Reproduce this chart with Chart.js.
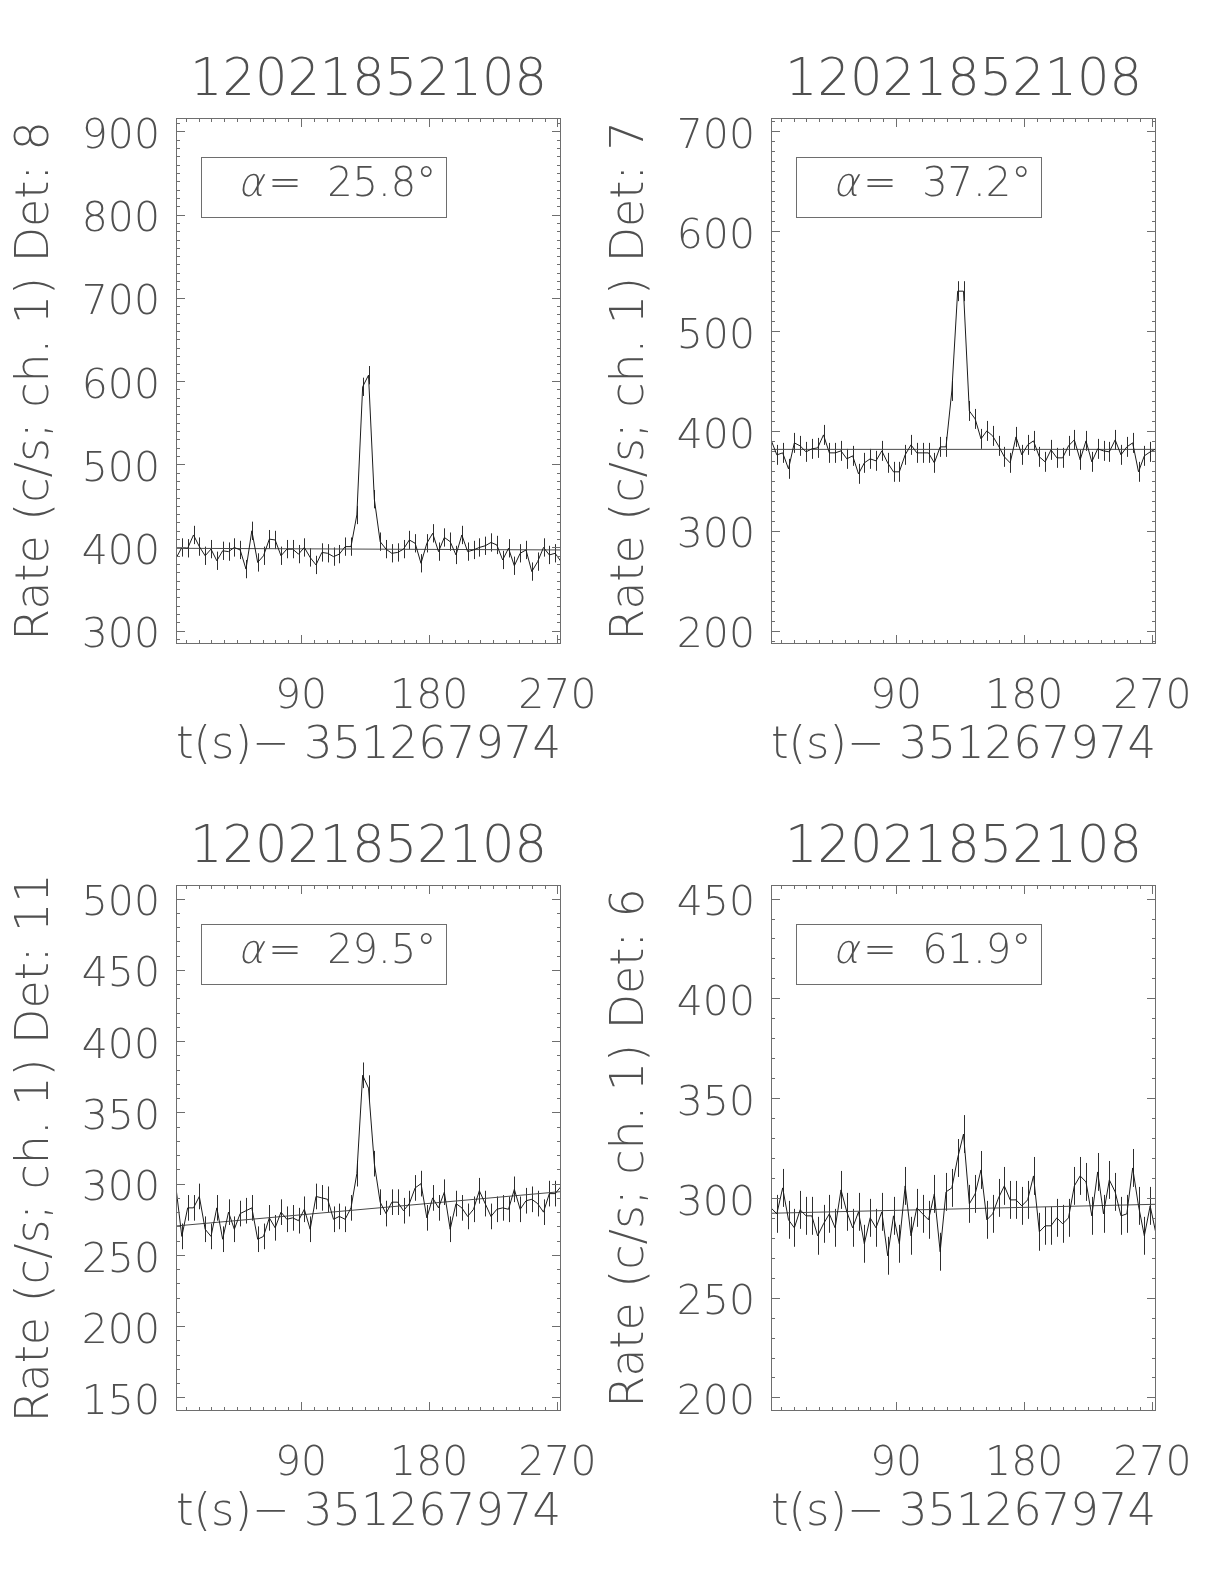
<!DOCTYPE html>
<html>
<head>
<meta charset="utf-8">
<title>12021852108 detector rates</title>
<script src="https://cdn.jsdelivr.net/npm/chart.js@4.4.1/dist/chart.umd.min.js"></script>
<style>
  html, body { margin: 0; padding: 0; background: #ffffff; }
  #page { position: relative; width: 1224px; height: 1584px; overflow: hidden; background: #ffffff; }
  #page canvas { position: absolute; }
</style>
</head>
<body>
<div id="page">
  <canvas id="det8" width="612" height="792" style="left:0px;top:0px"></canvas>
  <canvas id="det7" width="612" height="792" style="left:595px;top:0px"></canvas>
  <canvas id="det11" width="612" height="792" style="left:0px;top:767px"></canvas>
  <canvas id="det6" width="612" height="792" style="left:595px;top:767px"></canvas>
</div>
<script>
const TITLE = "12021852108";
const X_TITLE = "t(s)\u2212 351267974";
const T0 = 2.2;    // first bin, s after 351267974
const DT = 4.096;  // bin width (s)

const xTicks = [90, 180, 270];

// ---- Det 8 ----
const rate8 = [387, 400, 399, 415, 401, 390, 398, 384, 396, 395,
               400, 397, 374, 420, 382, 390, 410, 409, 390, 398,
               398, 392, 400, 388, 379, 394, 393, 389, 392, 401,
               401, 439, 593, 607, 458, 407, 398, 393, 394, 398,
               409, 405, 381, 405, 417, 395, 412, 407, 391, 415,
               395, 397, 400, 402, 406, 403, 385, 399, 378, 393,
               397, 371, 383, 400, 391, 393, 383];
const bg8 = [399, 397];
const yTicks8 = [300, 400, 500, 600, 700, 800, 900];

// ---- Det 7 ----
const rate7 = [391, 376, 378, 362, 388, 385, 379, 382, 383, 396,
               378, 378, 380, 372, 375, 357, 368, 372, 370, 380,
               368, 359, 359, 376, 386, 378, 378, 378, 368, 384,
               384, 440, 540, 540, 420, 412, 392, 400, 395, 385,
               374, 368, 394, 376, 386, 390, 374, 369, 381, 373,
               373, 385, 391, 371, 390, 369, 382, 380, 379, 391,
               376, 384, 388, 359, 375, 379, 382];
const bg7 = [381.5, 381.5];
const yTicks7 = [200, 300, 400, 500, 600, 700];

// ---- Det 11 ----
const rate11 = [297, 263, 283, 283, 291, 268, 263, 283, 261, 280,
                268, 279, 281, 283, 261, 263, 276, 269, 280, 275,
                276, 274, 282, 268, 291, 290, 289, 275, 277, 275,
                283, 307, 376, 367, 314, 287, 279, 287, 287, 281,
                286, 297, 300, 276, 290, 283, 294, 268, 286, 283,
                277, 282, 295, 286, 277, 282, 283, 282, 296, 282,
                288, 289, 286, 280, 293, 293, 298];
const bg11 = [270.3, 294.4];
const yTicks11 = [150, 200, 250, 300, 350, 400, 450, 500];

// ---- Det 6 ----
const rate6 = [295, 292, 305, 289, 285, 294, 291, 291, 281, 287,
               292, 285, 304, 293, 285, 293, 277, 290, 285, 293,
               271, 291, 277, 306, 281, 295, 292, 289, 302, 273,
               303, 305, 320, 332, 297, 302, 314, 289, 292, 300,
               306, 299, 299, 296, 299, 311, 283, 286, 286, 290,
               287, 290, 306, 311, 308, 291, 313, 292, 309, 303,
               291, 292, 315, 296, 281, 296, 282];
const bg6 = [292.3, 296.8];
const yTicks6 = [200, 250, 300, 350, 400, 450];

const times = rate8.map((r, i) => T0 + i * DT);
const bgTimes = [times[0], times[times.length - 1]];

const FONT = '"DejaVu Sans"';
const TXT = "#505050";
const FRAME = "#6e6e6e";

function idlPlugin(p) {
  return {
    id: "idlFrame",
    beforeDatasetsDraw(chart) {
      const { ctx, chartArea: a, scales: { x, y } } = chart;
      ctx.save();
      ctx.beginPath();
      ctx.rect(a.left, a.top, a.width, a.height);
      ctx.clip();
      // error bars
      ctx.strokeStyle = "#2e2e2e";
      ctx.lineWidth = 1;
      ctx.beginPath();
      p.rates.forEach((r, i) => {
        const px = Math.round(x.getPixelForValue(times[i])) + 0.5;
        ctx.moveTo(px, y.getPixelForValue(r - p.err));
        ctx.lineTo(px, y.getPixelForValue(r + p.err));
      });
      ctx.stroke();
      ctx.restore();
    },
    afterDraw(chart) {
      const { ctx, chartArea: a, scales: { x, y } } = chart;
      ctx.save();
      ctx.strokeStyle = FRAME;
      ctx.lineWidth = 1;
      ctx.strokeRect(a.left + 0.5, a.top + 0.5, a.width - 1, a.height - 1);

      // ticks on all four sides, pointing in
      ctx.beginPath();
      for (let v = Math.ceil(x.min / 9) * 9; v <= x.max; v += 9) {
        const len = v % 90 === 0 ? 9 : 4;
        const px = Math.round(x.getPixelForValue(v)) + 0.5;
        ctx.moveTo(px, a.bottom); ctx.lineTo(px, a.bottom - len);
        ctx.moveTo(px, a.top); ctx.lineTo(px, a.top + len);
      }
      for (let v = Math.ceil(y.min / 10) * 10; v <= y.max; v += 10) {
        const len = p.yTicks.includes(v) ? 9 : 4;
        const py = Math.round(y.getPixelForValue(v)) + 0.5;
        ctx.moveTo(a.left, py); ctx.lineTo(a.left + len, py);
        ctx.moveTo(a.right, py); ctx.lineTo(a.right - len, py);
      }
      ctx.stroke();

      // angle box
      ctx.strokeRect(a.left + 25.5, a.top + 39.5, 245, 60);
      ctx.fillStyle = TXT;
      ctx.textBaseline = "middle";
      const fN = "200 40px " + FONT;
      const num = "=  " + p.alpha + "\u00b0";
      ctx.font = fN;
      const wA = ctx.measureText("\u03b1").width;
      const wN = ctx.measureText(num).width;
      const tx = a.left + 161 - (wA + wN) / 2;
      const ty = a.top + 68;
      // alpha slanted like the Hershey italic
      ctx.save();
      ctx.translate(tx, ty);
      ctx.transform(1, 0, -0.22, 1, 0, 0);
      ctx.fillText("\u03b1", 0, 0);
      ctx.restore();
      ctx.fillText(num, tx + wA + 2, ty);
      ctx.restore();
    }
  };
}

function makeChart(id, p) {
  const ctx = document.getElementById(id).getContext("2d");
  const tickFont = { family: FONT, size: 41, weight: 200, lineHeight: 1 };
  return new Chart(ctx, {
    type: "line",
    data: {
      datasets: [
        {
          data: p.rates.map((r, i) => ({ x: times[i], y: r })),
          borderColor: "#1c1c1c",
          borderWidth: 1,
          pointRadius: 0,
          tension: 0
        },
        {
          data: p.bg.map((b, i) => ({ x: bgTimes[i], y: b })),
          borderColor: "#4a4a4a",
          borderWidth: 1,
          pointRadius: 0
        }
      ]
    },
    options: {
      responsive: false,
      animation: false,
      events: [],
      layout: { padding: { left: 8, right: 51, top: 0, bottom: 18 } },
      plugins: {
        legend: { display: false },
        tooltip: { enabled: false },
        title: {
          display: true,
          text: TITLE,
          fullSize: false,
          color: TXT,
          font: { family: FONT, size: 51, weight: 200, lineHeight: 1 },
          padding: { top: 56, bottom: 11 }
        }
      },
      scales: {
        x: {
          type: "linear",
          min: times[0],
          max: times[times.length - 1],
          afterBuildTicks: (s) => { s.ticks = xTicks.map((v) => ({ value: v })); },
          afterFit: (s) => {
            s.height = 130;
            s.paddingLeft = 0;
            s.paddingRight = 0;
          },
          grid: { display: false, drawTicks: false },
          border: { display: false },
          ticks: { color: TXT, font: tickFont, padding: 33, maxRotation: 0, autoSkip: false },
          title: {
            display: true,
            text: X_TITLE,
            color: TXT,
            font: { family: FONT, size: 45, weight: 200, lineHeight: 1 },
            padding: { top: 0, bottom: 5 }
          }
        },
        y: {
          type: "linear",
          min: p.yRange[0],
          max: p.yRange[1],
          afterBuildTicks: (s) => { s.ticks = p.yTicks.map((v) => ({ value: v })); },
          afterFit: (s) => {
            s.width = 168;
            s.paddingTop = 0;
            s.paddingBottom = 0;
          },
          grid: { display: false, drawTicks: false },
          border: { display: false },
          ticks: { color: TXT, font: tickFont, padding: 16, labelOffset: 6, autoSkip: false },
          title: {
            display: true,
            text: "Rate (c/s; ch. 1) Det: " + p.det,
            color: TXT,
            font: { family: FONT, size: 46, weight: 200, lineHeight: 1 },
            padding: { top: 5, bottom: 0 }
          }
        }
      }
    },
    plugins: [idlPlugin(p)]
  });
}

makeChart("det8",  { det: 8,  alpha: "25.8", rates: rate8,  bg: bg8,  yTicks: yTicks8,  yRange: [284, 916],     err: 11 });
makeChart("det7",  { det: 7,  alpha: "37.2", rates: rate7,  bg: bg7,  yTicks: yTicks7,  yRange: [186.5, 713.5], err: 10 });
makeChart("det11", { det: 11, alpha: "29.5", rates: rate11, bg: bg11, yTicks: yTicks11, yRange: [140.5, 509.5], err: 9 });
makeChart("det6",  { det: 6,  alpha: "61.9", rates: rate6,  bg: bg6,  yTicks: yTicks6,  yRange: [193.2, 456.8], err: 9.5 });
</script>
</body>
</html>
